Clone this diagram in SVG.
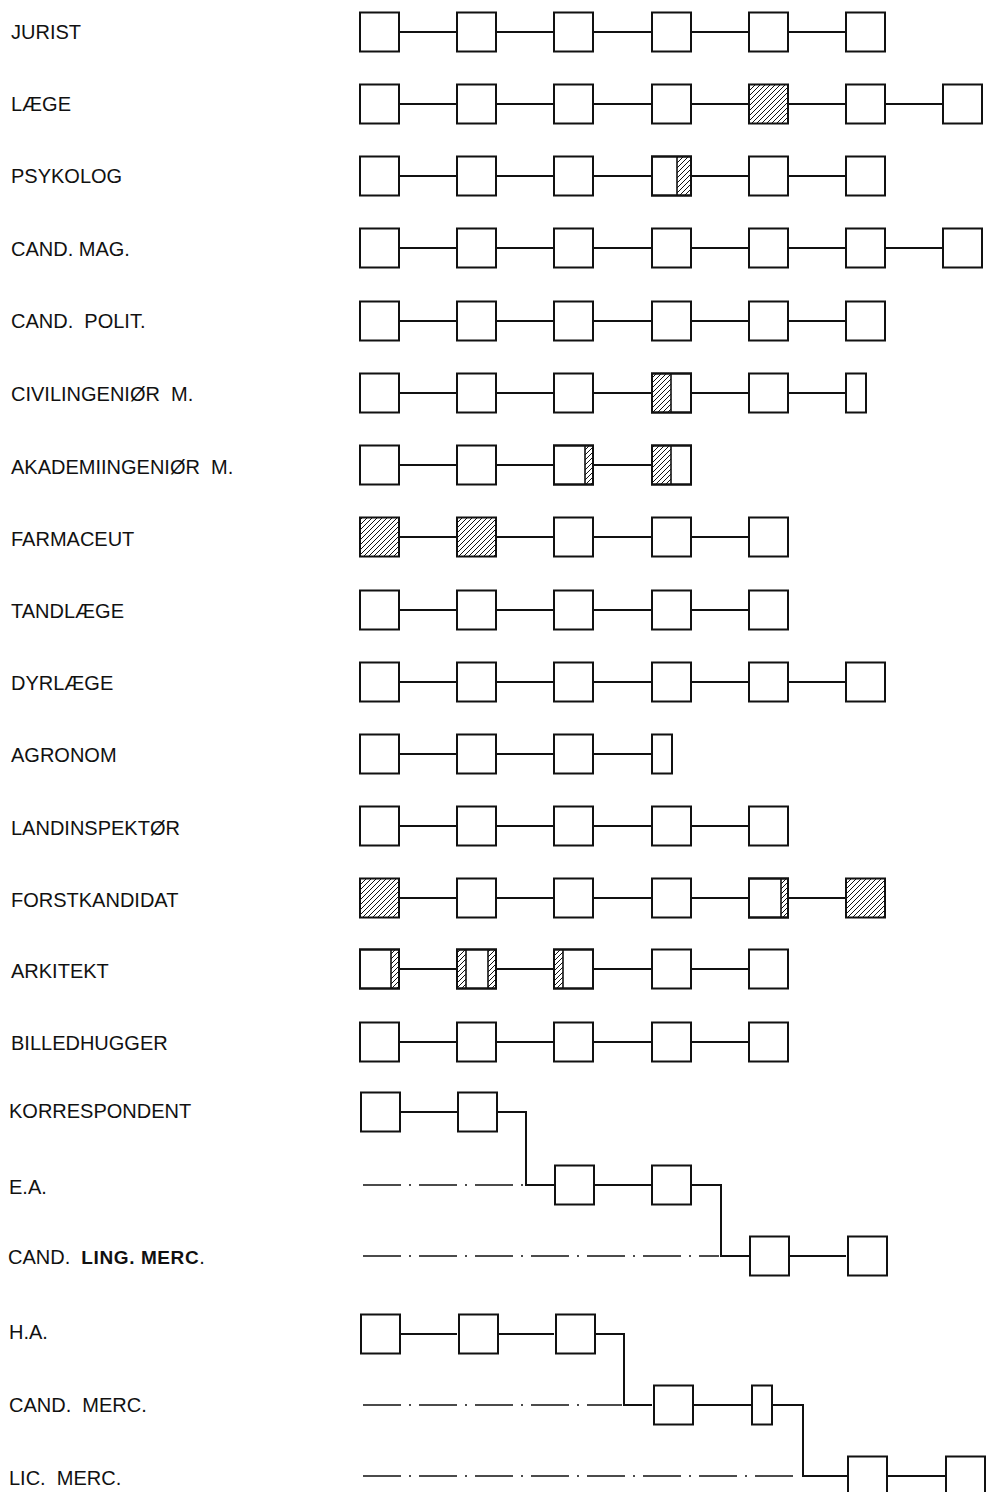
<svg xmlns="http://www.w3.org/2000/svg" width="988" height="1492" viewBox="0 0 988 1492">
<defs>
<pattern id="hatch" patternUnits="userSpaceOnUse" width="5" height="5">
<path d="M-1,1 L1,-1 M0,5 L5,0 M4,6 L6,4" stroke="#111" stroke-width="1"/>
</pattern>
<style>
.box{fill:#fff;stroke:#111;stroke-width:2}
.hbox{fill:url(#hatch);stroke:#111;stroke-width:2}
.ol{fill:none;stroke:#111;stroke-width:2}
.strip{fill:url(#hatch);stroke:none}
.div{stroke:#111;stroke-width:1.6}
.link{fill:none;stroke:#111;stroke-width:2}
.dash{fill:none;stroke:#111;stroke-width:1.5;stroke-dasharray:38 8 2 8}
.lbl{font-family:"Liberation Sans",Arial,sans-serif;font-size:20px;fill:#111;white-space:pre}
.alt{font-family:"Liberation Sans",Arial,sans-serif;font-weight:bold;font-size:19px;letter-spacing:0.6px}
</style>
</defs>
<rect width="988" height="1492" fill="#fff"/>

<g id="labels" xml:space="preserve">
<text class="lbl" x="11" y="39">JURIST</text>
<text class="lbl" x="11" y="111">LÆGE</text>
<text class="lbl" x="11" y="183">PSYKOLOG</text>
<text class="lbl" x="11" y="256">CAND. MAG.</text>
<text class="lbl" x="11" y="328">CAND.  POLIT.</text>
<text class="lbl" x="11" y="401">CIVILINGENIØR  M.</text>
<text class="lbl" x="11" y="474">AKADEMIINGENIØR  M.</text>
<text class="lbl" x="11" y="546">FARMACEUT</text>
<text class="lbl" x="11" y="618">TANDLÆGE</text>
<text class="lbl" x="11" y="690">DYRLÆGE</text>
<text class="lbl" x="11" y="762">AGRONOM</text>
<text class="lbl" x="11" y="835">LANDINSPEKTØR</text>
<text class="lbl" x="11" y="907">FORSTKANDIDAT</text>
<text class="lbl" x="11" y="978">ARKITEKT</text>
<text class="lbl" x="11" y="1050">BILLEDHUGGER</text>
<text class="lbl" x="9" y="1118">KORRESPONDENT</text>
<text class="lbl" x="9" y="1194">E.A.</text>
<text class="lbl" x="8" y="1264">CAND.  <tspan class="alt">LING. MERC</tspan>.</text>
<text class="lbl" x="9" y="1339">H.A.</text>
<text class="lbl" x="9" y="1412">CAND.  MERC.</text>
<text class="lbl" x="9" y="1485">LIC.  MERC.</text>
</g>

<g id="connectors">
<path class="link" d="M399,32H457M496,32H554M593,32H652M691,32H749M788,32H846"/>
<path class="link" d="M399,104H457M496,104H554M593,104H652M691,104H749M788,104H846M885,104H943"/>
<path class="link" d="M399,176H457M496,176H554M593,176H652M691,176H749M788,176H846"/>
<path class="link" d="M399,248H457M496,248H554M593,248H652M691,248H749M788,248H846M885,248H943"/>
<path class="link" d="M399,321H457M496,321H554M593,321H652M691,321H749M788,321H846"/>
<path class="link" d="M399,393H457M496,393H554M593,393H652M691,393H749M788,393H846"/>
<path class="link" d="M399,465H457M496,465H554M593,465H652"/>
<path class="link" d="M399,537H457M496,537H554M593,537H652M691,537H749"/>
<path class="link" d="M399,610H457M496,610H554M593,610H652M691,610H749"/>
<path class="link" d="M399,682H457M496,682H554M593,682H652M691,682H749M788,682H846"/>
<path class="link" d="M399,754H457M496,754H554M593,754H652"/>
<path class="link" d="M399,826H457M496,826H554M593,826H652M691,826H749"/>
<path class="link" d="M399,898H457M496,898H554M593,898H652M691,898H749M788,898H846"/>
<path class="link" d="M399,969H457M496,969H554M593,969H652M691,969H749"/>
<path class="link" d="M399,1042H457M496,1042H554M593,1042H652M691,1042H749"/>
<path class="link" d="M399,1112H457"/>
<path class="link" d="M496,1112H526V1185H554"/>
<path class="link" d="M593,1185H652"/>
<path class="link" d="M691,1185H721V1256H749"/>
<path class="link" d="M788,1256H846"/>
<path class="dash" d="M363,1185H524"/>
<path class="dash" d="M363,1256H719"/>
<path class="link" d="M399,1334H457M496,1334H554"/>
<path class="link" d="M593,1334H624V1405H652"/>
<path class="link" d="M691,1405H752"/>
<path class="link" d="M772,1405H803V1476H848"/>
<path class="link" d="M887,1476H946"/>
<path class="dash" d="M363,1405H622"/>
<path class="dash" d="M363,1476H801"/>
</g>

<g id="jurist">
<rect class="box" x="360" y="12.5" width="39" height="39"/>
<rect class="box" x="457" y="12.5" width="39" height="39"/>
<rect class="box" x="554" y="12.5" width="39" height="39"/>
<rect class="box" x="652" y="12.5" width="39" height="39"/>
<rect class="box" x="749" y="12.5" width="39" height="39"/>
<rect class="box" x="846" y="12.5" width="39" height="39"/>
</g>

<g id="laege">
<rect class="box" x="360" y="84.5" width="39" height="39"/>
<rect class="box" x="457" y="84.5" width="39" height="39"/>
<rect class="box" x="554" y="84.5" width="39" height="39"/>
<rect class="box" x="652" y="84.5" width="39" height="39"/>
<rect class="hbox" x="749" y="84.5" width="39" height="39"/>
<rect class="box" x="846" y="84.5" width="39" height="39"/>
<rect class="box" x="943" y="84.5" width="39" height="39"/>
</g>

<g id="psykolog">
<rect class="box" x="360" y="156.5" width="39" height="39"/>
<rect class="box" x="457" y="156.5" width="39" height="39"/>
<rect class="box" x="554" y="156.5" width="39" height="39"/>
<rect class="box" x="652" y="156.5" width="39" height="39"/>
<rect class="strip" x="677" y="156.5" width="14" height="39"/>
<line class="div" x1="677" y1="156.5" x2="677" y2="195.5"/>
<rect class="ol" x="652" y="156.5" width="39" height="39"/>
<rect class="box" x="749" y="156.5" width="39" height="39"/>
<rect class="box" x="846" y="156.5" width="39" height="39"/>
</g>

<g id="cand-mag">
<rect class="box" x="360" y="228.5" width="39" height="39"/>
<rect class="box" x="457" y="228.5" width="39" height="39"/>
<rect class="box" x="554" y="228.5" width="39" height="39"/>
<rect class="box" x="652" y="228.5" width="39" height="39"/>
<rect class="box" x="749" y="228.5" width="39" height="39"/>
<rect class="box" x="846" y="228.5" width="39" height="39"/>
<rect class="box" x="943" y="228.5" width="39" height="39"/>
</g>

<g id="cand-polit">
<rect class="box" x="360" y="301.5" width="39" height="39"/>
<rect class="box" x="457" y="301.5" width="39" height="39"/>
<rect class="box" x="554" y="301.5" width="39" height="39"/>
<rect class="box" x="652" y="301.5" width="39" height="39"/>
<rect class="box" x="749" y="301.5" width="39" height="39"/>
<rect class="box" x="846" y="301.5" width="39" height="39"/>
</g>

<g id="civilingenioer">
<rect class="box" x="360" y="373.5" width="39" height="39"/>
<rect class="box" x="457" y="373.5" width="39" height="39"/>
<rect class="box" x="554" y="373.5" width="39" height="39"/>
<rect class="box" x="652" y="373.5" width="39" height="39"/>
<rect class="strip" x="652" y="373.5" width="19" height="39"/>
<line class="div" x1="671" y1="373.5" x2="671" y2="412.5"/>
<rect class="ol" x="652" y="373.5" width="39" height="39"/>
<rect class="box" x="749" y="373.5" width="39" height="39"/>
<rect class="box" x="846" y="373.5" width="20" height="39"/>
</g>

<g id="akademiingenioer">
<rect class="box" x="360" y="445.5" width="39" height="39"/>
<rect class="box" x="457" y="445.5" width="39" height="39"/>
<rect class="box" x="554" y="445.5" width="39" height="39"/>
<rect class="strip" x="585" y="445.5" width="8" height="39"/>
<line class="div" x1="585" y1="445.5" x2="585" y2="484.5"/>
<rect class="ol" x="554" y="445.5" width="39" height="39"/>
<rect class="box" x="652" y="445.5" width="39" height="39"/>
<rect class="strip" x="652" y="445.5" width="19" height="39"/>
<line class="div" x1="671" y1="445.5" x2="671" y2="484.5"/>
<rect class="ol" x="652" y="445.5" width="39" height="39"/>
</g>

<g id="farmaceut">
<rect class="hbox" x="360" y="517.5" width="39" height="39"/>
<rect class="hbox" x="457" y="517.5" width="39" height="39"/>
<rect class="box" x="554" y="517.5" width="39" height="39"/>
<rect class="box" x="652" y="517.5" width="39" height="39"/>
<rect class="box" x="749" y="517.5" width="39" height="39"/>
</g>

<g id="tandlaege">
<rect class="box" x="360" y="590.5" width="39" height="39"/>
<rect class="box" x="457" y="590.5" width="39" height="39"/>
<rect class="box" x="554" y="590.5" width="39" height="39"/>
<rect class="box" x="652" y="590.5" width="39" height="39"/>
<rect class="box" x="749" y="590.5" width="39" height="39"/>
</g>

<g id="dyrlaege">
<rect class="box" x="360" y="662.5" width="39" height="39"/>
<rect class="box" x="457" y="662.5" width="39" height="39"/>
<rect class="box" x="554" y="662.5" width="39" height="39"/>
<rect class="box" x="652" y="662.5" width="39" height="39"/>
<rect class="box" x="749" y="662.5" width="39" height="39"/>
<rect class="box" x="846" y="662.5" width="39" height="39"/>
</g>

<g id="agronom">
<rect class="box" x="360" y="734.5" width="39" height="39"/>
<rect class="box" x="457" y="734.5" width="39" height="39"/>
<rect class="box" x="554" y="734.5" width="39" height="39"/>
<rect class="box" x="652" y="734.5" width="20" height="39"/>
</g>

<g id="landinspektoer">
<rect class="box" x="360" y="806.5" width="39" height="39"/>
<rect class="box" x="457" y="806.5" width="39" height="39"/>
<rect class="box" x="554" y="806.5" width="39" height="39"/>
<rect class="box" x="652" y="806.5" width="39" height="39"/>
<rect class="box" x="749" y="806.5" width="39" height="39"/>
</g>

<g id="forstkandidat">
<rect class="hbox" x="360" y="878.5" width="39" height="39"/>
<rect class="box" x="457" y="878.5" width="39" height="39"/>
<rect class="box" x="554" y="878.5" width="39" height="39"/>
<rect class="box" x="652" y="878.5" width="39" height="39"/>
<rect class="box" x="749" y="878.5" width="39" height="39"/>
<rect class="strip" x="781" y="878.5" width="7" height="39"/>
<line class="div" x1="781" y1="878.5" x2="781" y2="917.5"/>
<rect class="ol" x="749" y="878.5" width="39" height="39"/>
<rect class="hbox" x="846" y="878.5" width="39" height="39"/>
</g>

<g id="arkitekt">
<rect class="box" x="360" y="949.5" width="39" height="39"/>
<rect class="strip" x="391" y="949.5" width="8" height="39"/>
<line class="div" x1="391" y1="949.5" x2="391" y2="988.5"/>
<rect class="ol" x="360" y="949.5" width="39" height="39"/>
<rect class="box" x="457" y="949.5" width="39" height="39"/>
<rect class="strip" x="457" y="949.5" width="9" height="39"/>
<rect class="strip" x="488" y="949.5" width="8" height="39"/>
<line class="div" x1="466" y1="949.5" x2="466" y2="988.5"/>
<line class="div" x1="488" y1="949.5" x2="488" y2="988.5"/>
<rect class="ol" x="457" y="949.5" width="39" height="39"/>
<rect class="box" x="554" y="949.5" width="39" height="39"/>
<rect class="strip" x="554" y="949.5" width="9" height="39"/>
<line class="div" x1="563" y1="949.5" x2="563" y2="988.5"/>
<rect class="ol" x="554" y="949.5" width="39" height="39"/>
<rect class="box" x="652" y="949.5" width="39" height="39"/>
<rect class="box" x="749" y="949.5" width="39" height="39"/>
</g>

<g id="billedhugger">
<rect class="box" x="360" y="1022.5" width="39" height="39"/>
<rect class="box" x="457" y="1022.5" width="39" height="39"/>
<rect class="box" x="554" y="1022.5" width="39" height="39"/>
<rect class="box" x="652" y="1022.5" width="39" height="39"/>
<rect class="box" x="749" y="1022.5" width="39" height="39"/>
</g>

<g id="korrespondent">
<rect class="box" x="361" y="1092.5" width="39" height="39"/>
<rect class="box" x="458" y="1092.5" width="39" height="39"/>
</g>

<g id="ea">
<rect class="box" x="555" y="1165.5" width="39" height="39"/>
<rect class="box" x="652" y="1165.5" width="39" height="39"/>
</g>

<g id="cand-ling-merc">
<rect class="box" x="750" y="1236.5" width="39" height="39"/>
<rect class="box" x="848" y="1236.5" width="39" height="39"/>
</g>

<g id="ha">
<rect class="box" x="361" y="1314.5" width="39" height="39"/>
<rect class="box" x="459" y="1314.5" width="39" height="39"/>
<rect class="box" x="556" y="1314.5" width="39" height="39"/>
</g>

<g id="cand-merc">
<rect class="box" x="654" y="1385.5" width="39" height="39"/>
<rect class="box" x="752" y="1385.5" width="20" height="39"/>
</g>

<g id="lic-merc">
<rect class="box" x="848" y="1456.5" width="39" height="39"/>
<rect class="box" x="946" y="1456.5" width="39" height="39"/>
</g>
</svg>
